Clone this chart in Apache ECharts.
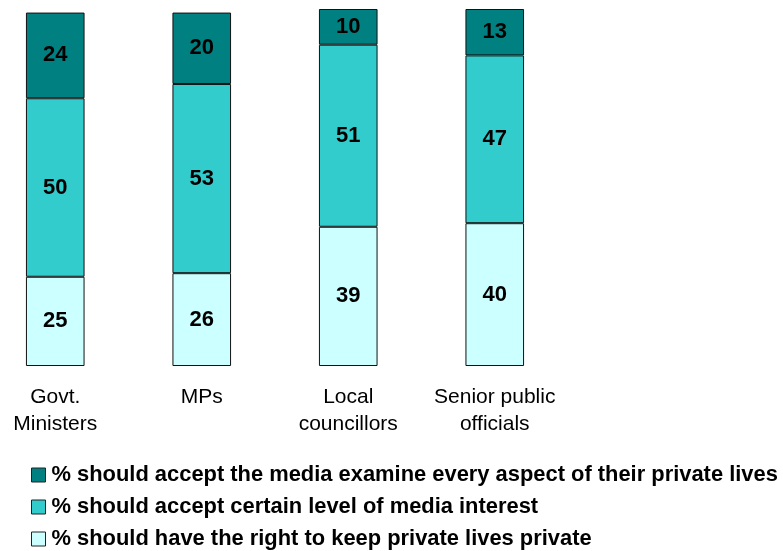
<!DOCTYPE html>
<html>
<head>
<meta charset="utf-8">
<script src="https://cdn.jsdelivr.net/npm/echarts@6/dist/echarts.min.js"></script>
<style>
  html, body { margin: 0; padding: 0; background: #fff; overflow: hidden; }
  /* canvas starts a little left of the page so the first category band can overhang the edge */
  #chart { width: 801px; height: 551px; margin-left: -18px; }
</style>
</head>
<body>
<div id="chart"></div>
<script>
// Survey groups and the share of respondents giving each answer (%)
const categories = ['Govt.\nMinisters', 'MPs', 'Local\ncouncillors', 'Senior public\nofficials'];
const seriesNames = [
  '% should accept the media examine every aspect of their private lives',
  '% should accept certain level of media interest',
  '% should have the right to keep private lives private'
];
const examineAll = [24, 20, 10, 13];
const certainLevel = [50, 53, 51, 47];
const keepPrivate = [25, 26, 39, 40];

const colors = ['#008080', '#33CCCC', '#CCFFFF'];
const font = 'Liberation Sans, Arial, sans-serif';

function barSeries(name, data, color) {
  return {
    name: name,
    type: 'bar',
    stack: 'total',
    data: data,
    barWidth: '40%',
    itemStyle: { color: color, borderColor: '#111', borderWidth: 1 },
    label: {
      show: true,
      position: 'inside',
      color: '#000',
      fontFamily: font,
      fontWeight: 'bold',
      fontSize: 22
    },
    emphasis: { disabled: true }
  };
}

const chart = echarts.init(document.getElementById('chart'), null, { renderer: 'canvas' });
chart.setOption({
  animation: false,
  backgroundColor: '#fff',
  grid: { left: 0, width: 586, top: 9, bottom: 185, containLabel: false },
  xAxis: {
    type: 'category',
    data: categories,
    axisLine: { show: false },
    axisTick: { show: false },
    axisLabel: {
      color: '#000',
      fontFamily: font,
      fontSize: 21,
      lineHeight: 27,
      margin: 18,
      interval: 0
    }
  },
  yAxis: {
    type: 'value',
    min: 0,
    max: 100,
    show: false
  },
  legend: {
    orient: 'vertical',
    left: 44,
    top: 459,
    height: 100,
    itemWidth: 14,
    itemHeight: 14,
    itemGap: 10,
    icon: 'rect',
    data: seriesNames,
    itemStyle: { borderColor: '#222', borderWidth: 1 },
    textStyle: {
      color: '#000',
      fontFamily: font,
      fontWeight: 'bold',
      fontSize: 21.9,
      padding: [0, 0, 0, 1]
    },
    selectedMode: false
  },
  series: [
    barSeries(seriesNames[2], keepPrivate, colors[2]),
    barSeries(seriesNames[1], certainLevel, colors[1]),
    barSeries(seriesNames[0], examineAll, colors[0])
  ]
});
</script>
</body>
</html>
